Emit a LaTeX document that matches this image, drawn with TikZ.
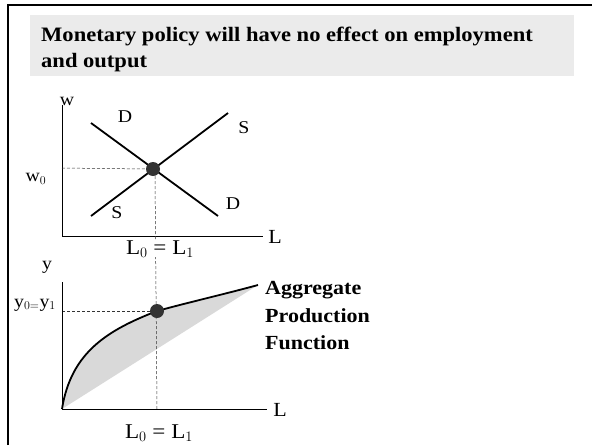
\documentclass[tikz,border=0pt]{standalone}
\usepackage{fontspec}
\setmainfont[FakeStretch=1.1]{Liberation Serif}
\definecolor{titlegray}{HTML}{EBEBEB}
\definecolor{fillgray}{HTML}{D9D9D9}
\definecolor{dotgray}{HTML}{333333}
\tikzset{
  axis/.style={line width=1pt, black},
  curve/.style={line width=1.8pt, black},
  guide/.style={densely dashed, line width=0.5pt, black!80},
  lbl/.style={font=\fontsize{18}{20}\selectfont, inner sep=0pt},
  axlbl/.style={font=\fontsize{20}{22}\selectfont, inner sep=0pt},
  eqlbl/.style={font=\fontsize{21}{23}\selectfont, inner sep=0pt},
  boldlbl/.style={font=\fontsize{20}{22}\selectfont\bfseries, inner sep=0pt, anchor=base west},
  titlelbl/.style={font=\fontsize{20.5}{24}\selectfont\bfseries, inner sep=0pt, anchor=base west},
  eqdot/.style={circle, fill=dotgray, minimum size=14pt, inner sep=0pt},
}
\begin{document}
\begin{tikzpicture}[x=1pt,y=-1pt]
\useasboundingbox (0,0) rectangle (592,445);
% frame
\draw[line width=2pt] (8,445) -- (8,5) -- (592,5);
% title
\fill[titlegray] (30,15) rectangle (574,76);
\node[titlelbl] (t1) at (41,41) {Monetary policy will have no effect on employment};
\node[titlelbl] (t2) at (41,67) {and output};
% upper chart
\coordinate (uo) at (62,236);
\coordinate (uy) at (62,105);
\coordinate (ux) at (263,236);
\draw[axis] (uy) -- (uo) -- (ux);
\node[lbl] (uw) at (67,101) {w};
\node[axlbl] (uL) at (275,237) {L};
\coordinate (d1) at (91,123);
\coordinate (d2) at (218,216);
\coordinate (s1) at (91,216);
\coordinate (s2) at (228,113);
\draw[curve] (d1) -- (d2);
\draw[curve] (s1) -- (s2);
\node[lbl] (Dt) at (125,117) {D};
\node[lbl] (St) at (244,128) {S};
\node[lbl] (Sb) at (117,213) {S};
\node[lbl] (Db) at (233,204) {D};
\node[eqdot] (e1) at (153,169) {};
\coordinate (w0a) at (62,168);
\draw[guide] (w0a) -- (e1.west);
\node[lbl] (w0) at (36,179) {w$_0$};
% lower chart
\coordinate (lo) at (62,409);
\coordinate (ly) at (62,282);
\coordinate (lx) at (267,409);
\coordinate (pe) at (258,285);
\fill[fillgray] (lo) .. controls (71,352) and (108,330) .. (157,311)
  .. controls (190,302) and (225,294) .. (pe) -- cycle;
\coordinate (lvb) at (157,409);
\draw[guide] (e1.south) ++(2,0) -- (lvb);
\node[eqlbl, fill=white, inner xsep=1pt] (L01) at (160,249) {L$_0$ = L$_1$};
\coordinate (y0a) at (62,311);
\draw[guide] (y0a) -- (156,311);
\draw[curve] (lo) .. controls (71,352) and (108,330) .. (157,311)
  .. controls (190,302) and (225,294) .. (pe);
\node[eqdot] (e2) at (157,311) {};
\draw[axis] (ly) -- (lo) -- (lx);
\node[lbl] (ylab) at (47,267) {y};
\node[lbl] (y0) at (35,305) {y$_{0=}$y$_1$};
\node[axlbl] (lL) at (280,410) {L};
\node[eqlbl] (L02) at (159,433) {L$_0$ = L$_1$};
\node[boldlbl] (ap1) at (265,294) {Aggregate};
\node[boldlbl] (ap2) at (265,322) {Production};
\node[boldlbl] (ap3) at (265,349) {Function};
\end{tikzpicture}
\end{document}
